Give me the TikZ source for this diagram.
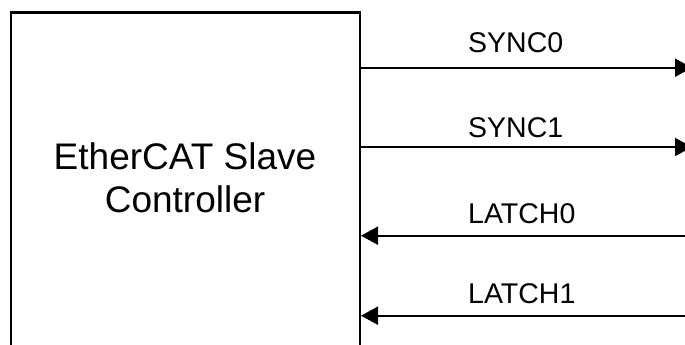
\documentclass[tikz,border=0pt]{standalone}
\usepackage{fontspec}
\setmainfont{Liberation Sans}
\usetikzlibrary{arrows.meta}
\begin{document}
\begin{tikzpicture}[x=1pt,y=1pt,
  wire/.style={line width=2pt},
  boxline/.style={line width=2.2pt},
  tip/.style={-{Triangle[length=17pt,width=18pt]}},
  lbl/.style={anchor=base west,inner sep=0pt,font=\fontsize{28.5}{34}\selectfont},
  title/.style={align=center,inner sep=0pt,font=\fontsize{37}{43}\selectfont}]
\useasboundingbox (0,0) rectangle (685,345);
\clip (0,0) rectangle (685,345);
% open-bottom box
\draw[boxline] (11,0) -- (11,332.5) -- (360,332.5) -- (360,0);
\node[title] (esc) at (185,167) {EtherCAT Slave\\Controller};
% connector end points
\coordinate (s0a) at (360,277.3);
\coordinate (s0b) at (692,277.3);
\coordinate (s1a) at (360,198);
\coordinate (s1b) at (692,198);
\coordinate (l0a) at (690,109.3);
\coordinate (l0b) at (361,109.3);
\coordinate (l1a) at (690,29.3);
\coordinate (l1b) at (361,29.3);
\draw[wire,tip] (s0a) -- (s0b);
\draw[wire,tip] (s1a) -- (s1b);
\draw[wire,tip] (l0a) -- (l0b);
\draw[wire,tip] (l1a) -- (l1b);
\node[lbl] (sync0) at (468,292) {SYNC0};
\node[lbl] (sync1) at (468,207.7) {SYNC1};
\node[lbl] (latch0) at (468,121.7) {LATCH0};
\node[lbl] (latch1) at (468,41.7) {LATCH1};
\end{tikzpicture}
\end{document}
